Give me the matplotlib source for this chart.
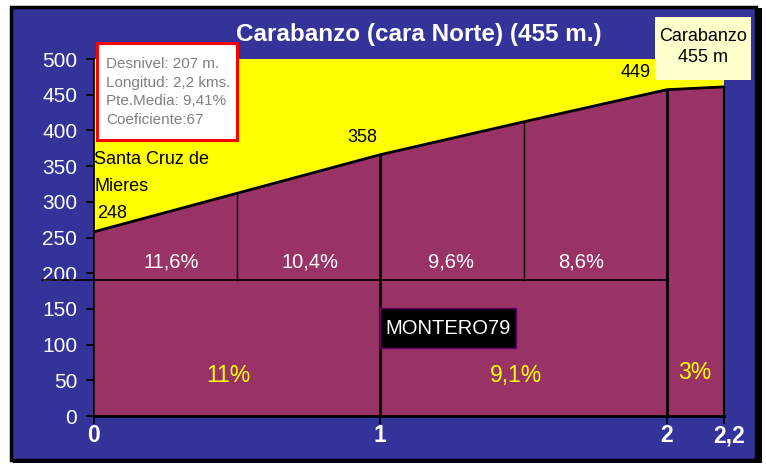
import matplotlib.pyplot as plt
import matplotlib.transforms as mtransforms
from matplotlib.patches import Rectangle

plt.rcParams['font.family'] = ['Liberation Sans', 'DejaVu Sans']

# perfil (km, m)
km = [0, 0.5, 1, 1.5, 2, 2.2]
altitud = [258, 312, 366, 412, 457, 461]
pendientes = ['11,6%', '10,4%', '9,6%', '8,6%']
pend_x = [0.27, 0.755, 1.245, 1.70]
pend_km = ['11%', '9,1%', '3%']
pend_km_x = [0.47, 1.475, 2.098]
etiquetas_alt = ['248', '358', '449']
x_ticks = [0, 1, 2, 2.2]
x_labels = ['0', '1', '2', '2,2']
y_ticks = [0, 50, 100, 150, 200, 250, 300, 350, 400, 450, 500]

azul = '#333399'
granate = '#993366'
amarillo = '#ffff00'

fig = plt.figure(figsize=(7.66, 4.65), dpi=100)
fig.patch.set_facecolor('white')
# fondo azul con marco negro
fig.patches.append(Rectangle((13/766, 2/465), 749/766, 455/465, transform=fig.transFigure,
                             facecolor='black', edgecolor='none', zorder=-10))
fig.patches.append(Rectangle((11/766, 5/465), 745/766, 453/465, transform=fig.transFigure,
                             facecolor=azul, edgecolor='black', linewidth=2.5, zorder=-9))

ax = fig.add_axes([94/766, 49/465, 630/766, 357/465])
ax.set_facecolor(amarillo)
ax.set_xlim(0, 2.2)
ax.set_ylim(0, 500)

ax.fill_between(km, 0, altitud, color=granate, linewidth=0)
ax.plot(km, altitud, color='black', linewidth=2)

# lineas de tramos
base = 190
ax.plot([-0.18, 2], [base, base], color='black', linewidth=1.2, clip_on=False, zorder=4)
for i, x in enumerate(km[1:-1]):
    if x in (1, 2):
        ax.plot([x, x], [0, altitud[i + 1]], color='black', linewidth=2)
    else:
        ax.plot([x, x], [base, altitud[i + 1]], color='black', linewidth=1)
ax.plot([2.2, 2.2], [0, altitud[-1]], color='black', linewidth=1.5, clip_on=False)

for x, p in zip(pend_x, pendientes):
    ax.text(x, 216, p, color='white', fontsize=14.5, ha='center', va='center')
for x, p in zip(pend_km_x, pend_km):
    ax.text(x, 57 if x < 2 else 61, p, color='#ffff00', fontsize=16.5, ha='center', va='center')

ax.text(0.0, 340, 'Santa Cruz de\nMieres', fontsize=13, ha='left', va='center', linespacing=1.75)
ax.text(0.01, 284, etiquetas_alt[0], fontsize=13, ha='left', va='center')
ax.text(0.937, 390, etiquetas_alt[1], fontsize=13, ha='center', va='center')
ax.text(1.84, 481, etiquetas_alt[2], fontsize=13, ha='left', va='center')

# caja MONTERO79
ax.add_patch(Rectangle((1, 95), 0.475, 56, facecolor='black', edgecolor='#660066',
                       linewidth=1, zorder=5))
ax.text(1.2375, 123, 'MONTERO79', color='white', fontsize=14.5, ha='center', va='center', zorder=6)

for s in ['top', 'right']:
    ax.spines[s].set_visible(False)
ax.spines['left'].set_linewidth(1.2)
ax.spines['bottom'].set_linewidth(2)
ax.set_xticks(x_ticks)
ax.set_xticklabels(x_labels, fontsize=16.5, fontweight='bold', color='white')
ax.set_yticks(y_ticks)
ax.set_yticklabels([str(v) for v in y_ticks], fontsize=15, color='white')
ax.tick_params(axis='y', length=6, width=1.2, color='black', pad=6)
ax.tick_params(axis='x', length=6, width=1.2, color='black', pad=0)
# la etiqueta 2,2 va algo a la derecha
lbl = ax.get_xticklabels()[-1]
lbl.set_transform(lbl.get_transform() + mtransforms.ScaledTranslation(5/100, 0, fig.dpi_scale_trans))

fig.text(419/766, 1 - 35/465, 'Carabanzo (cara Norte) (455 m.)', color='white', fontsize=17.5,
         fontweight='bold', ha='center', va='center')

# cuadro de datos
fig.patches.append(Rectangle((97/766, 1 - 140/465), 140/766, 97/465, transform=fig.transFigure,
                             facecolor='white', edgecolor='red', linewidth=2.2))
fig.text(106/766, 1 - 92/465, 'Desnivel: 207 m.\nLongitud: 2,2 kms.\nPte.Media: 9,41%\nCoeficiente:67',
         color='#808080', fontsize=11, ha='left', va='center', linespacing=1.45)

fig.patches.append(Rectangle((655/766, 1 - 80/465), 96/766, 63/465, transform=fig.transFigure,
                             facecolor='#ffffcc', edgecolor='none'))
fig.text(703/766, 1 - 47/465, 'Carabanzo\n455 m', color='black', fontsize=13, ha='center',
         va='center', linespacing=1.35)

plt.savefig('out.png', dpi=100)
